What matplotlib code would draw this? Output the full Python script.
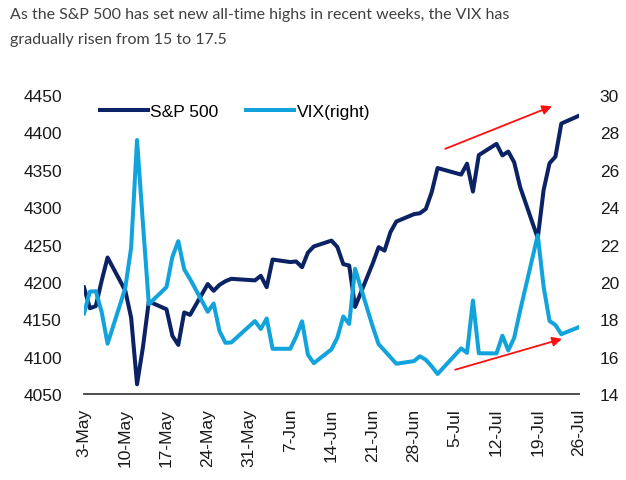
import matplotlib
matplotlib.use("Agg")
import matplotlib.pyplot as plt
import matplotlib.dates as mdates
import pandas as pd

# --- data (2021 daily closes) ---
dates = [
    "2021-05-03", "2021-05-04", "2021-05-05", "2021-05-06", "2021-05-07",
    "2021-05-10", "2021-05-11", "2021-05-12", "2021-05-13", "2021-05-14",
    "2021-05-17", "2021-05-18", "2021-05-19", "2021-05-20", "2021-05-21",
    "2021-05-24", "2021-05-25", "2021-05-26", "2021-05-27", "2021-05-28",
    "2021-06-01", "2021-06-02", "2021-06-03", "2021-06-04",
    "2021-06-07", "2021-06-08", "2021-06-09", "2021-06-10", "2021-06-11",
    "2021-06-14", "2021-06-15", "2021-06-16", "2021-06-17", "2021-06-18",
    "2021-06-21", "2021-06-22", "2021-06-23", "2021-06-24", "2021-06-25",
    "2021-06-28", "2021-06-29", "2021-06-30", "2021-07-01", "2021-07-02",
    "2021-07-06", "2021-07-07", "2021-07-08", "2021-07-09",
    "2021-07-12", "2021-07-13", "2021-07-14", "2021-07-15", "2021-07-16",
    "2021-07-19", "2021-07-20", "2021-07-21", "2021-07-22", "2021-07-23",
    "2021-07-26",
]
spx = [
    4192.7, 4164.7, 4167.6, 4201.6, 4232.6,
    4188.4, 4152.1, 4063.0, 4112.5, 4173.9,
    4163.3, 4127.8, 4115.7, 4159.1, 4155.9,
    4197.1, 4188.1, 4196.0, 4200.9, 4204.1,
    4202.0, 4208.1, 4192.9, 4229.9,
    4226.5, 4227.3, 4219.6, 4239.2, 4247.4,
    4255.2, 4246.6, 4223.7, 4221.9, 4166.5,
    4224.8, 4246.4, 4241.8, 4266.5, 4280.7,
    4290.6, 4291.8, 4297.5, 4319.9, 4352.3,
    4343.5, 4358.1, 4320.8, 4369.6,
    4384.6, 4369.2, 4374.3, 4360.0, 4327.2,
    4258.5, 4323.1, 4358.7, 4367.5, 4411.8,
    4422.3,
]
vix = [
    18.31, 19.48, 19.50, 18.39, 16.69,
    19.66, 21.84, 27.59, 23.13, 18.81,
    19.72, 21.34, 22.18, 20.67, 20.15,
    18.40, 18.84, 17.36, 16.74, 16.76,
    17.90, 17.48, 18.04, 16.42,
    16.42, 17.07, 17.89, 16.10, 15.65,
    16.39, 17.02, 18.15, 17.75, 20.70,
    17.60, 16.66, 16.32, 15.97, 15.62,
    15.76, 16.02, 15.83, 15.48, 15.07,
    16.44, 16.20, 19.00, 16.18,
    16.17, 17.12, 16.33, 17.01, 18.45,
    22.50, 19.73, 17.91, 17.69, 17.20,
    17.58,
]
tick_dates = ["2021-05-03", "2021-05-10", "2021-05-17", "2021-05-24", "2021-05-31",
              "2021-06-07", "2021-06-14", "2021-06-21", "2021-06-28", "2021-07-05",
              "2021-07-12", "2021-07-19", "2021-07-26"]
tick_labels = ["3-May", "10-May", "17-May", "24-May", "31-May", "7-Jun", "14-Jun",
               "21-Jun", "28-Jun", "5-Jul", "12-Jul", "19-Jul", "26-Jul"]
spx_ticks = list(range(4050, 4451, 50))
vix_ticks = list(range(14, 31, 2))

title = ("As the S&P 500 has set new all-time highs in recent weeks, the VIX has\n"
         "gradually risen from 15 to 17.5")

NAVY = "#0B2265"
LIGHT = "#12A3DC"
TXT = "#1a1a1a"

x = pd.to_datetime(dates)
xt = pd.to_datetime(tick_dates)

plt.rcParams["font.family"] = ["Liberation Sans", "DejaVu Sans"]

fig = plt.figure(figsize=(6.26, 4.81), dpi=100)
ax = fig.add_axes([84 / 626, 1 - 395 / 481, (579 - 84) / 626, (395 - 96) / 481])
ax2 = ax.twinx()

ax.plot(x, spx, color=NAVY, lw=2.9, solid_joinstyle="round", label="S&P 500", zorder=3)
ax2.plot(x, vix, color=LIGHT, lw=2.9, solid_joinstyle="round", label="VIX(right)")

ax.set_xlim(x[0], x[-1])
ax.set_ylim(4050, 4450)
ax2.set_ylim(14, 30)
ax.set_yticks(spx_ticks)
ax2.set_yticks(vix_ticks)
ax.set_xticks(xt)
ax.set_xticklabels(tick_labels, rotation=90)

for a in (ax, ax2):
    for s in ("top", "left", "right", "bottom"):
        a.spines[s].set_visible(False)
    a.tick_params(length=0, labelsize=12.5, labelcolor=TXT)
ax.spines["bottom"].set_visible(True)
ax.spines["bottom"].set_color("#404040")
ax.spines["bottom"].set_linewidth(1.3)
ax.tick_params(axis="y", pad=16)
ax2.tick_params(axis="y", pad=15)
ax.tick_params(axis="x", pad=10)

# red trend arrows
d0 = mdates.date2num(x[0])
ax.annotate("", xy=(d0 + 79.4, 4435), xytext=(d0 + 61.3, 4378),
            arrowprops=dict(arrowstyle="-|>", color="#FF1010", lw=1.3,
                            mutation_scale=14, shrinkA=0, shrinkB=0), zorder=5)
ax2.annotate("", xy=(d0 + 81.1, 16.95), xytext=(d0 + 63.0, 15.30),
             arrowprops=dict(arrowstyle="-|>", color="#FF1010", lw=1.3,
                             mutation_scale=14, shrinkA=0, shrinkB=0), zorder=5)

h1, l1 = ax.get_legend_handles_labels()
h2, l2 = ax2.get_legend_handles_labels()
fig.legend(h1 + h2, l1 + l2, loc="center left", bbox_to_anchor=(100 / 626, 1 - 112 / 481),
           ncol=2, frameon=False, fontsize=12.5, handlelength=2.75, handletextpad=0.15,
           columnspacing=1.6, borderpad=0, borderaxespad=0)

fig.text(10 / 626, 1 - 8 / 481, title, ha="left", va="top", fontsize=11.5,
         color="#404040", family=["Lato", "Liberation Sans"], linespacing=2.0)

fig.savefig("out.png", dpi=100)
